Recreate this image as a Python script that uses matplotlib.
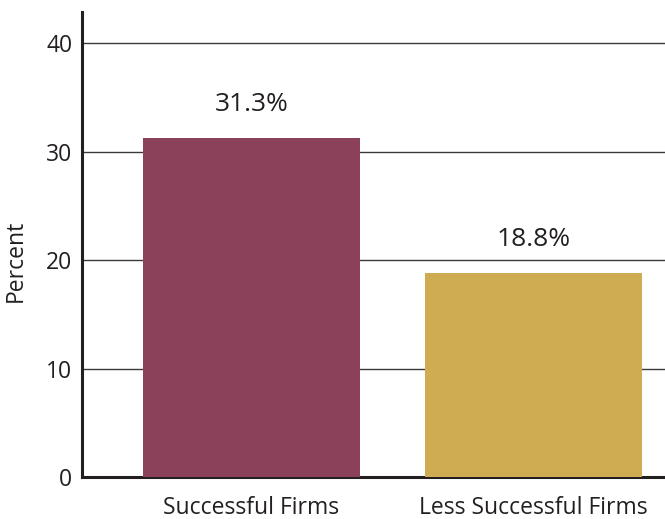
import matplotlib.pyplot as plt
import numpy as np

categories = ['Successful Firms', 'Less Successful Firms']
values = [31.3, 18.8]
labels = ['31.3%', '18.8%']
colors = ['#8B4159', '#CFAB52']

plt.rcParams['font.family'] = ['Open Sans', 'DejaVu Sans']

fig = plt.figure(figsize=(6.65, 5.19), dpi=100)
ax = fig.add_axes([0.1233, 0.0809, 0.8767, 0.896])

x = np.arange(len(categories))
ax.bar(x, values, width=0.77, color=colors, zorder=3)

for xi, v, lab in zip(x, values, labels):
    ax.text(xi, v + 3.1, lab, ha='center', va='center', fontsize=19, color='#231f20')

ax.set_xlim(-0.601, 1.466)
ax.set_ylim(0, 42.9)
ax.set_yticks([0, 10, 20, 30, 40])
ax.set_xticks(x)
ax.set_xticklabels(categories)
ax.tick_params(axis='y', length=0, labelsize=16.5, colors='#231f20', pad=7)
ax.tick_params(axis='x', length=0, labelsize=16.5, colors='#231f20', pad=14)
ax.set_ylabel('Percent', fontsize=16.5, color='#231f20')
ax.yaxis.set_label_coords(-0.093, 0.4645)

ax.yaxis.grid(True, color='#3a3a3a', linewidth=1.0, zorder=0)
ax.set_axisbelow(True)
for s in ['top', 'right']:
    ax.spines[s].set_visible(False)
for s in ['left', 'bottom']:
    ax.spines[s].set_linewidth(2.2)
    ax.spines[s].set_color('#231f20')

fig.savefig('out.png', dpi=100)
